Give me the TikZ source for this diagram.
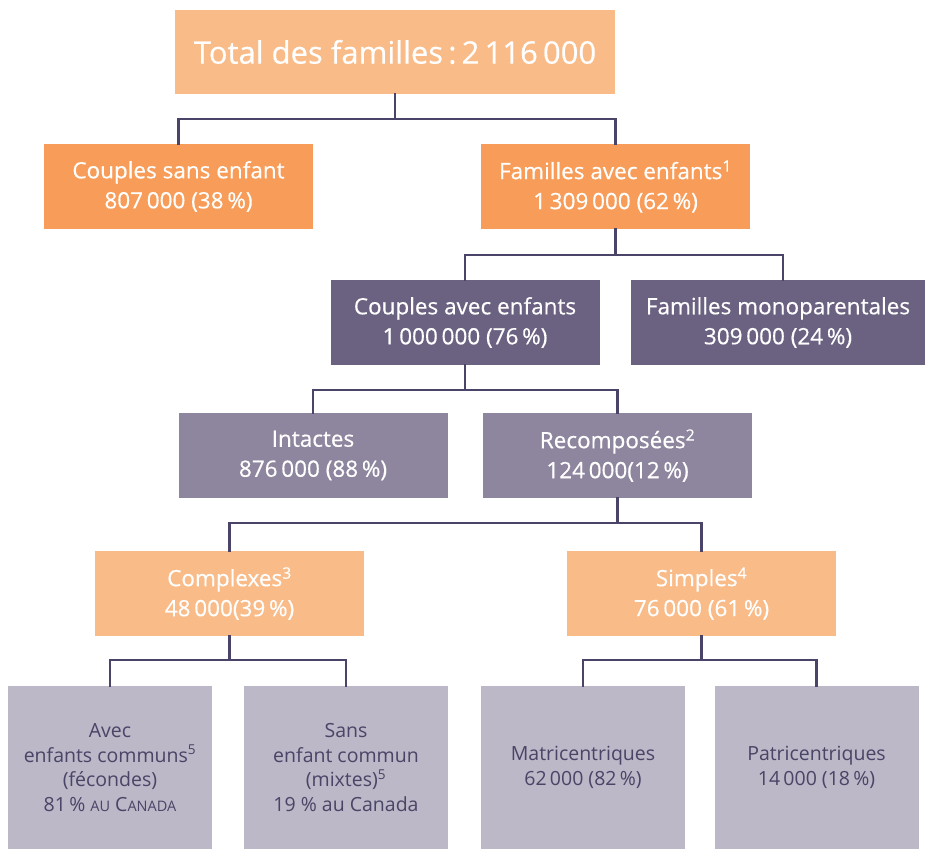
\documentclass[tikz,border=0pt]{standalone}
\usepackage{fontspec}
\setmainfont{Open Sans}
\newfontfamily\heavier[FakeBold=0.5]{Open Sans}
\definecolor{topfill}{HTML}{F9BB87}
\definecolor{orangefill}{HTML}{F79D59}
\definecolor{darkpurple}{HTML}{6B6282}
\definecolor{midpurple}{HTML}{8E869E}
\definecolor{lightpurple}{HTML}{BCB8C8}
\definecolor{linecol}{HTML}{4A4568}
\definecolor{darktext}{HTML}{4A4466}
\newcommand\fakesc{\fontsize{14.5}{0}\selectfont}
\begin{document}
\begin{tikzpicture}[x=1pt,y=-1pt,
  box/.style={rectangle, inner sep=0pt, minimum width=269pt, minimum height=85pt,
    align=center, text=white, font=\heavier\fontsize{22.5}{30}\selectfont},
  topbox/.style={box, fill=topfill, minimum width=440pt, minimum height=84pt,
    font=\heavier\fontsize{31}{36}\selectfont},
  lvltwo/.style={box, fill=orangefill},
  lvlthree/.style={box, fill=darkpurple},
  lvlfour/.style={box, fill=midpurple},
  lvlfive/.style={box, fill=topfill},
  leafbox/.style={box, fill=lightpurple, minimum width=204pt, minimum height=163pt,
    text=darktext, font=\fontsize{19.5}{24.5}\selectfont},
  conn/.style={draw=linecol, line width=2.6pt, line cap=rect}]
\useasboundingbox (0,0) rectangle (925,849);
\clip (0,0) rectangle (925,849);
\coordinate (ya) at (0,119);
\coordinate (yb) at (0,255);
\coordinate (yc) at (0,390);
\coordinate (yd) at (0,523);
\coordinate (ye) at (0,660);

\node[topbox] (top) at (395,52) {Total des familles\,:\,2\,116\,000};
\node[lvltwo] (csans) at (178.5,186.5) {Couples sans enfant\\807\,000 (38\,\%)};
\node[lvltwo] (favec) at (615.5,186.5) {Familles avec enfants\textsuperscript{1}\\1\,309\,000 (62\,\%)};
\node[lvlthree] (cavec) at (465,322.5) {Couples avec enfants\\1\,000\,000 (76\,\%)};
\node[lvlthree, minimum width=304pt] (fmono) at (783,322.5) {\hspace*{-10pt}Familles monoparentales\\\hspace*{-10pt}309\,000 (24\,\%)};
\node[lvlfour] (intact) at (313,455.5) {Intactes\\876\,000 (88\,\%)};
\node[lvlfour] (recomp) at (617.5,455.5) {Recomposées\textsuperscript{2}\\124\,000(12\,\%)};
\node[lvlfive] (complex) at (229.5,593.5) {Complexes\textsuperscript{3}\\48\,000(39\,\%)};
\node[lvlfive] (simple) at (701.5,593.5) {Simples\textsuperscript{4}\\76\,000 (61\,\%)};
\node[leafbox] (avec) at (110,767.5) {Avec\\enfants communs\textsuperscript{5}\\(fécondes)\\81\,\% {\fakesc AU} C{\fakesc ANADA}};
\node[leafbox] (sans) at (346,767.5) {Sans\\enfant commun\\(mixtes)\textsuperscript{5}\\19 \% au Canada};
\node[leafbox] (matri) at (583,767.5) {Matricentriques\\62\,000 (82\,\%)};
\node[leafbox] (patri) at (816.5,767.5) {Patricentriques\\14\,000 (18\,\%)};

\draw[conn] (top.south) -- (top.south |- ya) -| (csans.north);
\draw[conn] (top.south |- ya) -| (favec.north);
\draw[conn] (favec.south) -- (favec.south |- yb) -| (cavec.north);
\draw[conn] (favec.south |- yb) -| (fmono.north);
\draw[conn] (cavec.south) -- (cavec.south |- yc) -| (intact.north);
\draw[conn] (cavec.south |- yc) -| (recomp.north);
\draw[conn] (recomp.south) -- (recomp.south |- yd) -| (complex.north);
\draw[conn] (recomp.south |- yd) -| (simple.north);
\draw[conn] (complex.south) -- (complex.south |- ye) -| (avec.north);
\draw[conn] (complex.south |- ye) -| (sans.north);
\draw[conn] (simple.south) -- (simple.south |- ye) -| (matri.north);
\draw[conn] (simple.south |- ye) -| (patri.north);
\end{tikzpicture}
\end{document}
